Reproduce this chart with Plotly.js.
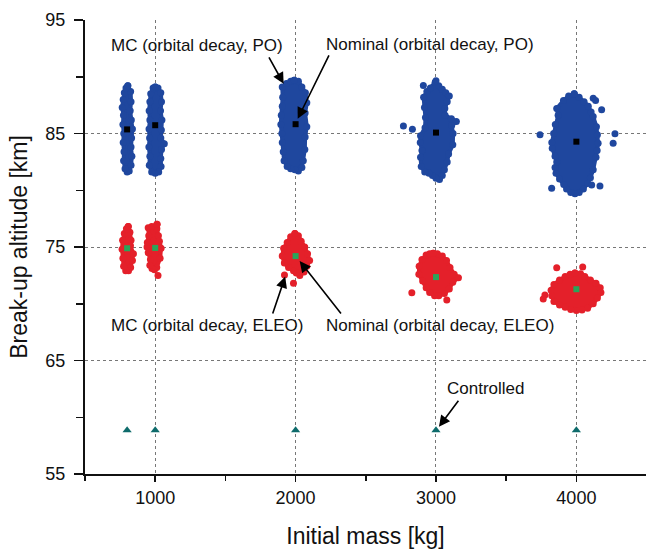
<!DOCTYPE html>
<html><head><meta charset="utf-8">
<script src="https://cdn.plot.ly/plotly-3.0.1.min.js"></script>
<style>html,body{margin:0;padding:0;background:#fff}#chart{width:646px;height:549px}</style>
</head><body><div id="chart"></div>
<script>
// Nominal / controlled results
const masses = [800, 1000, 2000, 3000, 4000];
const nominalPO = [85.36, 85.73, 85.82, 85.08, 84.28];
const nominalELEO = [74.89, 74.92, 74.2, 72.35, 71.28];
const controlled = [58.85, 58.85, 58.85, 58.85, 58.85];

// Monte Carlo clouds (PO): outermost samples read around each cloud
const po800_m = [805, 825, 828, 822, 830, 838, 832, 828, 834, 828, 815, 800, 785, 775, 778, 772, 776, 770, 774, 765, 772, 780, 792];
const po800_h = [89.2, 88.7, 87.8, 87.0, 86.2, 85.4, 84.6, 83.8, 83.0, 82.2, 81.7, 81.6, 81.9, 82.6, 83.4, 84.2, 85.0, 85.8, 86.6, 87.3, 88.0, 88.6, 89.0];
const po1000_m = [1000, 1020, 1040, 1045, 1038, 1048, 1044, 1040, 1065, 1045, 1040, 1042, 1025, 1000, 975, 958, 962, 955, 960, 956, 962, 957, 962, 968, 985];
const po1000_h = [89.1, 89.0, 88.6, 87.8, 87.0, 86.2, 85.3, 84.6, 84.1, 83.6, 82.8, 82.1, 81.6, 81.5, 81.6, 82.2, 83.0, 83.8, 84.6, 85.4, 86.2, 87.0, 87.8, 88.5, 89.0];
const po2000_m = [1990, 2020, 2045, 2070, 2080, 2068, 2080, 2068, 2066, 2055, 2045, 2020, 1995, 1965, 1940, 1918, 1912, 1905, 1902, 1895, 1898, 1905, 1908, 1905, 1935, 1965];
const po2000_h = [89.7, 89.6, 89.1, 88.6, 87.7, 86.8, 85.6, 84.7, 83.6, 82.6, 82.0, 81.7, 81.8, 81.9, 82.1, 82.6, 83.4, 84.2, 85.0, 85.8, 86.6, 87.4, 88.2, 89.1, 89.4, 89.6];
const po3000_m = [2995, 3020, 3045, 3070, 3095, 3080, 3063, 3065, 3110, 3145, 3112, 3122, 3120, 3090, 3080, 3060, 3045, 3025, 3000, 2975, 2950, 2920, 2895, 2890, 2900, 2888, 2890, 2922, 2925, 2918, 2912, 2935, 2960];
const po3000_h = [89.5, 89.2, 88.9, 88.6, 88.3, 87.8, 87.2, 86.6, 86.3, 86.05, 85.7, 85.0, 84.0, 83.2, 82.5, 81.8, 81.3, 80.95, 81.05, 81.3, 81.5, 81.6, 82.1, 82.9, 83.5, 84.2, 84.8, 85.5, 86.4, 87.3, 88.2, 88.7, 89.0];
const po4000_m = [3985, 4020, 4055, 4085, 4105, 4120, 4143, 4150, 4155, 4148, 4140, 4120, 4100, 4080, 4050, 4020, 3990, 3960, 3930, 3910, 3880, 3855, 3848, 3860, 3848, 3828, 3825, 3838, 3850, 3870, 3860, 3908, 3945];
const po4000_h = [88.5, 88.2, 87.8, 87.4, 86.9, 86.5, 85.6, 84.9, 84.15, 83.5, 82.9, 81.8, 81.1, 80.6, 80.1, 79.8, 79.7, 79.8, 80.1, 80.5, 81.0, 81.5, 82.0, 82.5, 83.0, 83.7, 84.2, 85.0, 85.8, 86.6, 87.2, 87.9, 88.3];
const poOut_m = [2768, 2832, 2910, 3000, 3741, 4275, 4262, 4120, 4137, 4180, 3824, 4168, 4109];
const poOut_h = [85.67, 85.38, 89.23, 89.64, 84.88, 84.97, 84.15, 88.1, 87.9, 87.09, 80.18, 80.38, 80.47];

// Monte Carlo clouds (ELEO)
const el800_m = [808, 820, 828, 824, 845, 838, 825, 810, 790, 775, 770, 764, 768, 780, 795];
const el800_h = [76.8, 76.3, 75.6, 75.1, 74.4, 73.8, 73.2, 72.9, 72.9, 73.3, 74.0, 74.8, 75.6, 76.2, 76.6];
const el1000_m = [1013, 1012, 1023, 1030, 1042, 1035, 1011, 995, 977, 962, 966, 950, 942, 944, 954, 950, 975];
const el1000_h = [77.0, 76.6, 76.0, 75.5, 74.9, 74.0, 73.2, 73.0, 73.1, 73.4, 73.9, 74.5, 75.0, 75.4, 76.0, 76.7, 76.8];
const el2000_m = [1995, 2020, 2040, 2065, 2085, 2100, 2080, 2060, 2030, 2005, 1985, 1950, 1920, 1905, 1915, 1940, 1965];
const el2000_h = [76.2, 76.0, 75.5, 75.0, 74.4, 73.8, 73.3, 72.8, 72.5, 72.7, 72.9, 73.2, 73.6, 74.2, 74.9, 75.4, 75.9];
const el3000_m = [2980, 3010, 3045, 3075, 3100, 3130, 3160, 3120, 3095, 3060, 3020, 2990, 2955, 2930, 2905, 2878, 2880, 2900, 2930, 2955];
const el3000_h = [74.45, 74.4, 74.2, 73.8, 73.2, 72.6, 72.3, 71.9, 71.3, 70.9, 70.7, 70.7, 71.0, 71.4, 72.0, 72.6, 73.3, 73.9, 74.3, 74.4];
const el4000_m = [3990, 4030, 4060, 4100, 4140, 4170, 4175, 4150, 4120, 4080, 4040, 4000, 3960, 3920, 3880, 3840, 3825, 3820, 3840, 3880, 3920, 3955];
const el4000_h = [72.7, 72.65, 72.4, 72.1, 71.8, 71.4, 71.0, 70.5, 70.0, 69.6, 69.45, 69.4, 69.5, 69.7, 69.9, 70.2, 70.7, 71.2, 71.7, 72.1, 72.4, 72.6];
const elOut_m = [1020, 1921, 1985, 2828, 3077, 3860, 4045, 3776, 3764];
const elOut_h = [72.5, 72.53, 71.8, 70.97, 70.32, 73.17, 73.24, 70.77, 70.41];

// Join the clouds into one path per series (null between clouds, each closed)
function joinClouds(list) {
  const x = [], y = [];
  list.forEach((c, i) => {
    if (i) { x.push(null); y.push(null); }
    x.push(...c[0], c[0][0]); y.push(...c[1], c[1][0]);
  });
  return {x, y};
}
const po = joinClouds([[po800_m, po800_h], [po1000_m, po1000_h], [po2000_m, po2000_h], [po3000_m, po3000_h], [po4000_m, po4000_h]]);
const el = joinClouds([[el800_m, el800_h], [el1000_m, el1000_h], [el2000_m, el2000_h], [el3000_m, el3000_h], [el4000_m, el4000_h]]);

const BLUE = '#1f479e', RED = '#e4202a', GREEN = '#2aa55a', TEAL = '#0e6b6b';

const traces = [
  {x: po.x, y: po.y, type: 'scatter', mode: 'lines+markers', fill: 'toself', fillcolor: BLUE,
   line: {color: BLUE, width: 4}, marker: {color: BLUE, size: 7}, connectgaps: false},
  {x: poOut_m, y: poOut_h, type: 'scatter', mode: 'markers', marker: {color: BLUE, size: 7}},
  {x: el.x, y: el.y, type: 'scatter', mode: 'lines+markers', fill: 'toself', fillcolor: RED,
   line: {color: RED, width: 4}, marker: {color: RED, size: 7}, connectgaps: false},
  {x: elOut_m, y: elOut_h, type: 'scatter', mode: 'markers', marker: {color: RED, size: 7}},
  {x: masses, y: nominalPO, type: 'scatter', mode: 'markers', marker: {color: '#000', size: 6, symbol: 'square'}},
  {x: masses, y: nominalELEO, type: 'scatter', mode: 'markers', marker: {color: GREEN, size: 6, symbol: 'square'}},
  {x: masses, y: controlled, type: 'scatter', mode: 'markers', marker: {color: TEAL, size: 8, symbol: 'triangle-up'}}
];

const txt = (t, x, y) => ({text: t, x: x, y: y, xref: 'x', yref: 'y', xanchor: 'left', yanchor: 'middle',
  showarrow: false, font: {size: 17, color: '#111'}});
const arr = (x, y, ax, ay) => ({text: '', x: x, y: y, xref: 'x', yref: 'y', ax: ax, ay: ay,
  showarrow: true, arrowhead: 2, arrowsize: 1.4, arrowwidth: 1.6, arrowcolor: '#000', standoff: 0});

const layout = {
  width: 646, height: 549,
  margin: {l: 85, r: 0, t: 20, b: 75},
  paper_bgcolor: '#fff', plot_bgcolor: '#fff',
  showlegend: false,
  font: {family: 'Arial, "Liberation Sans", sans-serif', color: '#111'},
  xaxis: {
    range: [500, 4496], tick0: 0, dtick: 1000,
    ticks: 'outside', ticklen: 6, tickwidth: 1.5, tickcolor: '#111', ticklabelstandoff: 0,
    showline: true, linecolor: '#111', linewidth: 2,
    showgrid: true, gridcolor: '#777', griddash: 'dot', gridwidth: 1, zeroline: false,
    tickfont: {size: 18},
    minor: {tick0: 0, dtick: 500, ticks: 'outside', ticklen: 5, tickwidth: 1.5, tickcolor: '#111', showgrid: false},
    title: {text: 'Initial mass [kg]', font: {size: 23}, standoff: 22}
  },
  yaxis: {
    range: [55, 95], tick0: 55, dtick: 10,
    ticks: 'outside', ticklen: 9, tickwidth: 1.5, tickcolor: '#111', ticklabelstandoff: 5,
    showline: true, linecolor: '#111', linewidth: 2,
    showgrid: true, gridcolor: '#777', griddash: 'dot', gridwidth: 1, zeroline: false,
    tickfont: {size: 18},
    minor: {tick0: 55, dtick: 5, ticks: 'outside', ticklen: 7, tickwidth: 1.5, tickcolor: '#111', showgrid: false},
    title: {text: 'Break-up altitude [km]', font: {size: 23}, standoff: 11}
  },
  annotations: [
    txt('MC (orbital decay, PO)', 673, 92.78),
    txt('Nominal (orbital decay, PO)', 2203, 92.84),
    txt('MC (orbital decay, ELEO)', 673, 68.07),
    txt('Nominal (orbital decay, ELEO)', 2203, 68.12),
    txt('Controlled', 3065, 62.52),
    arr(1915, 89.38, -15.5, -28),
    arr(2015, 86.29, 32, -65),
    arr(1926, 72.39, -13, 38.4),
    arr(2029, 73.76, 42.5, 54),
    arr(3021, 59.16, 20.6, -27.5)
  ]
};

Plotly.newPlot('chart', traces, layout, {displayModeBar: false, staticPlot: true});
</script>
</body></html>
